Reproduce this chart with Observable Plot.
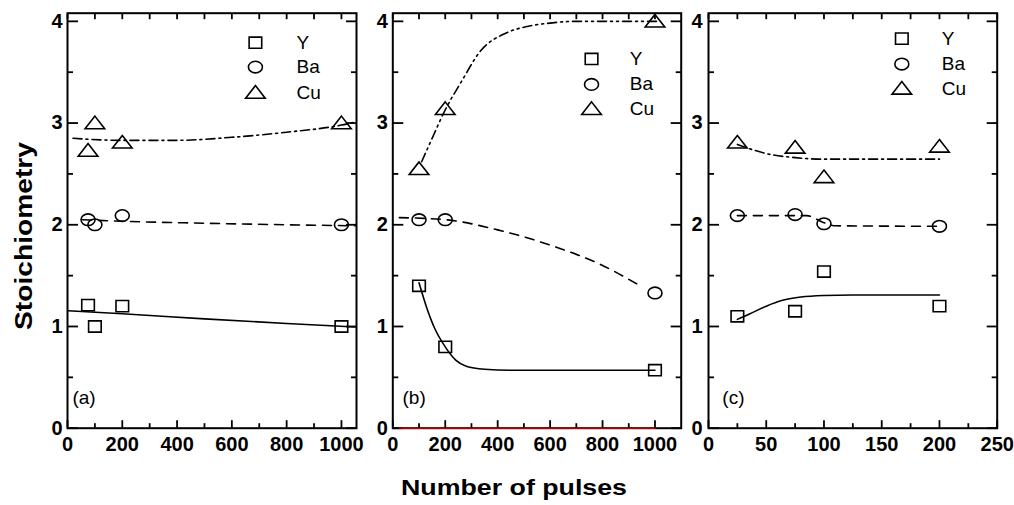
<!DOCTYPE html>
<html><head><meta charset="utf-8">
<script src="https://cdn.jsdelivr.net/npm/d3@7"></script>
<script src="https://cdn.jsdelivr.net/npm/@observablehq/plot@0.6"></script>
<style>
html,body{margin:0;padding:0;background:#fff;}
#chart{position:relative;width:1014px;height:505px;overflow:hidden;font-family:"Liberation Sans",Arial,sans-serif;}
#chart svg{position:absolute;left:0;top:0;}
</style></head><body><div id="chart"></div>
<script>
// ---------- data ----------
const species = ["Y", "Ba", "Cu"];
const panelLabels = ["(a)", "(b)", "(c)"];
const xTitle = "Number of pulses";
const yTitle = "Stoichiometry";

// panel (a)
const aX = [75, 100, 200, 1000];
const aY = [1.21, 1.00, 1.20, 1.00];
const aBa = [2.05, 2.00, 2.09, 2.00];
const aCu = [2.73, 3.00, 2.81, 3.00];
const aFitYx = [0, 200, 500, 800, 1050];
const aFitYy = [1.155, 1.125, 1.075, 1.03, 0.995];
const aFitBax = [55, 200, 500, 800, 1050];
const aFitBay = [2.05, 2.035, 2.015, 2.0, 1.99];
const aFitCux = [20, 200, 400, 600, 800, 1000, 1050];
const aFitCuy = [2.85, 2.83, 2.83, 2.86, 2.91, 2.98, 3.01];

// panel (b)
const bX = [100, 200, 1000];
const bY = [1.40, 0.80, 0.57];
const bBa = [2.05, 2.05, 1.33];
const bCu = [2.55, 3.14, 4.00];
const bFitYx = [100, 130, 160, 200, 240, 280, 350, 450, 1000];
const bFitYy = [1.43, 1.18, 0.98, 0.80, 0.67, 0.61, 0.58, 0.57, 0.57];
const bFitBax = [25, 200, 400, 600, 800, 930];
const bFitBay = [2.07, 2.05, 1.95, 1.80, 1.60, 1.42];
const bFitCux = [110, 150, 200, 260, 335, 437, 513, 590, 700, 1020];
const bFitCuy = [2.62, 2.85, 3.13, 3.40, 3.71, 3.89, 3.95, 3.98, 4.0, 4.0];
const bRedX = [25, 1000];
const bRedY = [0, 0];

// panel (c)
const cX = [25, 75, 100, 200];
const cY = [1.10, 1.15, 1.54, 1.20];
const cBa = [2.09, 2.10, 2.01, 1.985];
const cCu = [2.81, 2.76, 2.47, 2.77];
const cFitYx = [25, 35, 50, 65, 80, 100, 125, 200];
const cFitYy = [1.07, 1.12, 1.20, 1.26, 1.29, 1.305, 1.31, 1.31];
const cFitBax = [25, 85, 100, 110, 200];
const cFitBay = [2.09, 2.09, 2.02, 1.99, 1.985];
const cFitCux = [25, 50, 75, 100, 200];
const cFitCuy = [2.79, 2.70, 2.66, 2.645, 2.645];

// ticks
const yMajor = [0, 1, 2, 3, 4];
const yMinor = [0.5, 1.5, 2.5, 3.5];
const xMajorAB = [0, 200, 400, 600, 800, 1000];
const xMinorAB = [100, 300, 500, 700, 900];
const xMajorC = [0, 50, 100, 150, 200, 250];
const xMinorC = [25, 75, 125, 175, 225];

// legend positions (data coords per panel)
const legA = {mx: 686, tx: 836, y: [3.79, 3.55, 3.30]};
const legB = {mx: 758, tx: 904, y: [3.63, 3.38, 3.14]};
const legC = {mx: 167.4, tx: 202, y: [3.83, 3.58, 3.34]};
const labelPos = {x: [18, 37, 12], y: [0.30, 0.30, 0.30]};

// ---------- symbols (slightly wide, as in the reference) ----------
const symSquare = {draw(c){const w=6.3,h=5.6;c.moveTo(-w,-h);c.lineTo(w,-h);c.lineTo(w,h);c.lineTo(-w,h);c.closePath();}};
const symEllipse = {draw(c){const rx=7.0,ry=5.8,k=0.5523;c.moveTo(rx,0);c.bezierCurveTo(rx,ry*k,rx*k,ry,0,ry);c.bezierCurveTo(-rx*k,ry,-rx,ry*k,-rx,0);c.bezierCurveTo(-rx,-ry*k,-rx*k,-ry,0,-ry);c.bezierCurveTo(rx*k,-ry,rx,-ry*k,rx,0);c.closePath();}};
const symTri = {draw(c){const w=9.8,h=12.6;c.moveTo(0,-h*0.55);c.lineTo(w,h*0.45);c.lineTo(-w,h*0.45);c.closePath();}};
const syms = [symSquare, symEllipse, symTri];

const dashBa = "9,7";
const dashCu = "9,4,2,4,2,4";
const dashCuAC = "9,4,2,4";
const fmt = d => String(d);

function panel(cfg) {
  const pts = (xs, ys, sym) => Plot.dot(xs, {x: xs, y: ys, symbol: sym, r: 6, stroke: "black", strokeWidth: 1.6, fill: "none"});
  const ln = (xs, ys, dash, color="black") => Plot.line(xs, {x: xs, y: ys, curve: "monotone-x", stroke: color, strokeWidth: 1.6, strokeDasharray: dash});
  const leg = cfg.leg;
  const marks = [
    Plot.frame({stroke: "black", strokeWidth: 2}),
    Plot.axisY({anchor: "left", ticks: yMajor, tickSize: 0, tickPadding: cfg.yPad, tickFormat: fmt, label: null, ariaLabel: "ylab"}),
    Plot.axisY({anchor: "left", ticks: yMajor, tickSize: -11, tickFormat: () => "", label: null, strokeWidth: 1.8}),
    Plot.axisY({anchor: "left", ticks: yMinor, tickSize: -6, tickFormat: () => "", label: null, strokeWidth: 1.8}),
    Plot.axisY({anchor: "right", ticks: yMajor, tickSize: -11, tickFormat: () => "", label: null, strokeWidth: 1.8}),
    Plot.axisY({anchor: "right", ticks: yMinor, tickSize: -6, tickFormat: () => "", label: null, strokeWidth: 1.8}),
    Plot.axisX({anchor: "bottom", ticks: cfg.xMajor, tickSize: 0, tickPadding: 9, tickFormat: fmt, label: null, ariaLabel: "xlab"}),
    Plot.axisX({anchor: "bottom", ticks: cfg.xMajor, tickSize: -7.5, tickFormat: () => "", label: null, strokeWidth: 1.8}),
    Plot.axisX({anchor: "bottom", ticks: cfg.xMinor, tickSize: -4.5, tickFormat: () => "", label: null, strokeWidth: 1.8}),
    Plot.axisX({anchor: "top", ticks: cfg.xMajor.concat(cfg.xMinor), tickSize: -5.5, tickFormat: () => "", label: null, strokeWidth: 1.8}),
    ...(cfg.extra || []),
    ln(cfg.fitYx, cfg.fitYy, null),
    ln(cfg.fitBax, cfg.fitBay, dashBa),
    ln(cfg.fitCux, cfg.fitCuy, cfg.dashCu),
    pts(cfg.x, cfg.Y, symSquare),
    pts(cfg.x, cfg.Ba, symEllipse),
    pts(cfg.x, cfg.Cu, symTri),
    ...species.map((s, i) => Plot.dot([s], {x: () => leg.mx, y: () => leg.y[i], symbol: syms[i], r: 6, stroke: "black", strokeWidth: 1.6, fill: "none"})),
    Plot.text(species, {x: () => leg.tx, y: (d, i) => leg.y[i], text: d => d, textAnchor: "start", fontWeight: "normal", fontSize: 19, ariaLabel: "legend"}),
    Plot.text([cfg.label], {x: () => labelPos.x[cfg.i], y: () => labelPos.y[cfg.i], text: d => d, textAnchor: "start", fontWeight: "normal", fontSize: 19, ariaLabel: "plabel"})
  ];
  return Plot.plot({
    width: 1014, height: 505,
    marginLeft: cfg.left, marginRight: 1014 - cfg.right, marginTop: 12.7, marginBottom: 77.3,
    x: {domain: [0, cfg.xmax]},
    y: {domain: [0, 4.08]},
    style: {background: "transparent", fontFamily: "'Liberation Sans', Arial, sans-serif", fontSize: "20px", fontWeight: "bold", color: "black", overflow: "visible"},
    marks
  });
}

const chart = document.getElementById("chart");
const cfgs = [
  {i: 0, label: panelLabels[0], left: 67, right: 356, xmax: 1055, yPad: 5, xMajor: xMajorAB, xMinor: xMinorAB,
   x: aX, Y: aY, Ba: aBa, Cu: aCu, fitYx: aFitYx, fitYy: aFitYy, fitBax: aFitBax, fitBay: aFitBay, fitCux: aFitCux, fitCuy: aFitCuy, dashCu: dashCuAC, leg: legA},
  {i: 1, label: panelLabels[1], left: 392.3, right: 680.7, xmax: 1100, yPad: 5, xMajor: xMajorAB, xMinor: xMinorAB,
   x: bX, Y: bY, Ba: bBa, Cu: bCu, fitYx: bFitYx, fitYy: bFitYy, fitBax: bFitBax, fitBay: bFitBay, fitCux: bFitCux, fitCuy: bFitCuy, dashCu: dashCu, leg: legB,
   extra: [Plot.line(bRedX, {x: bRedX, y: bRedY, stroke: "#b00000", strokeWidth: 1.6})]},
  {i: 2, label: panelLabels[2], left: 708, right: 996.7, xmax: 250, yPad: 6, xMajor: xMajorC, xMinor: xMinorC,
   x: cX, Y: cY, Ba: cBa, Cu: cCu, fitYx: cFitYx, fitYy: cFitYy, fitBax: cFitBax, fitBay: cFitBay, fitCux: cFitCux, fitCuy: cFitCuy, dashCu: dashCuAC, leg: legC}
];
for (const c of cfgs) chart.appendChild(panel(c));

// axis titles
const ov = d3.select(chart).append("svg").attr("width", 1014).attr("height", 505)
  .style("font-family", "'Liberation Sans', Arial, sans-serif");
ov.append("text").attr("x", 514).attr("y", 495).attr("text-anchor", "middle")
  .attr("font-weight", "bold").attr("font-size", 22).attr("textLength", 226).attr("lengthAdjust", "spacingAndGlyphs").text(xTitle);
ov.append("text").attr("transform", "translate(32,236) rotate(-90)").attr("text-anchor", "middle")
  .attr("font-weight", "bold").attr("font-size", 24).attr("textLength", 188).attr("lengthAdjust", "spacingAndGlyphs").text(yTitle);

// horizontal stretch, as in the reference raster
function stretch(sel, k) {
  chart.querySelectorAll(sel).forEach(t => {
    const w = t.getComputedTextLength();
    if (w > 0) { t.setAttribute("textLength", w * k); t.setAttribute("lengthAdjust", "spacingAndGlyphs"); }
  });
}
stretch('g[aria-label="ylab"] text', 1.12);
stretch('g[aria-label="xlab"] text', 1.08);
stretch('g[aria-label="legend"] text', 1.15);
stretch('g[aria-label="plabel"] text', 1.18);
</script>
</body></html>
